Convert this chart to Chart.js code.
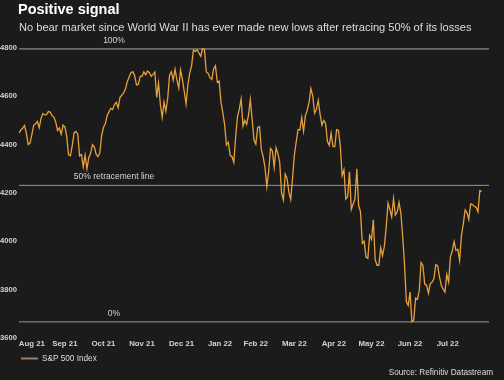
<!DOCTYPE html>
<html>
<head>
<meta charset="utf-8">
<script src="https://cdn.jsdelivr.net/npm/chart.js@4"></script>
<style>
  body { margin: 0; background: #1b1b1b; }
  #wrap { position: relative; width: 504px; height: 380px; background: #1b1b1b; font-family: "Liberation Sans", Arial, sans-serif; }
  #title { position: absolute; left: 18px; top: 1px; font-size: 14.5px; line-height: 16px; font-weight: bold; color: #fff; }
  #subtitle { position: absolute; left: 19px; top: 21px; font-size: 11.1px; line-height: 13px; color: #ddd; white-space: nowrap; }
  #source { position: absolute; right: 11px; top: 368px; font-size: 8.2px; line-height: 10px; color: #ddd; }
  canvas { position: absolute; left: 0; top: 0; }
</style>
</head>
<body>
<div id="wrap">
  <canvas id="wykres" width="504" height="380"></canvas>
  <div id="title">Positive signal</div>
  <div id="subtitle">No bear market since World War II has ever made new lows after retracing 50% of its losses</div>
  <div id="source">Source: Refinitiv Datastream</div>
</div>
<script>
// S&P 500 daily closes, one array per month (11 Aug 2021 - 11 Aug 2022)
var aug21 = [4448, 4461, 4468, 4480, 4448, 4400, 4406, 4442, 4480, 4486, 4496, 4470, 4509, 4529, 4523];
var sep21 = [4524, 4537, 4535, 4520, 4514, 4493, 4459, 4469, 4443, 4481, 4474, 4433, 4358, 4354, 4396, 4449, 4455, 4443, 4353, 4359, 4308];
var oct21 = [4357, 4300, 4346, 4364, 4400, 4391, 4361, 4351, 4364, 4438, 4471, 4486, 4520, 4536, 4550, 4545, 4566, 4575, 4552, 4596, 4605];
var nov21 = [4614, 4631, 4661, 4680, 4698, 4702, 4685, 4647, 4649, 4683, 4683, 4701, 4689, 4705, 4698, 4683, 4691, 4701, 4595, 4655, 4567];
var dec21 = [4513, 4577, 4538, 4592, 4687, 4701, 4667, 4712, 4669, 4634, 4710, 4669, 4621, 4568, 4649, 4697, 4726, 4791, 4786, 4793, 4779, 4766];
var jan22 = [4797, 4794, 4701, 4696, 4677, 4670, 4713, 4726, 4659, 4663, 4577, 4533, 4483, 4398, 4410, 4356, 4350, 4327, 4432, 4516];
var feb22 = [4547, 4589, 4477, 4501, 4484, 4522, 4587, 4504, 4419, 4402, 4471, 4475, 4380, 4349, 4305, 4226, 4289, 4385, 4374];
var mar22 = [4306, 4387, 4363, 4329, 4201, 4171, 4278, 4260, 4204, 4173, 4262, 4358, 4412, 4463, 4461, 4512, 4456, 4520, 4543, 4576, 4632, 4602, 4530];
var apr22 = [4546, 4583, 4525, 4481, 4500, 4488, 4413, 4397, 4447, 4393, 4392, 4462, 4459, 4394, 4272, 4296, 4175, 4184, 4288, 4132];
var may22 = [4155, 4175, 4300, 4147, 4123, 3991, 4001, 3935, 3930, 4024, 4008, 4089, 3924, 3901, 3901, 3974, 3941, 3979, 4058, 4158, 4132];
var jun22 = [4101, 4177, 4109, 4121, 4161, 4116, 4018, 3901, 3750, 3735, 3790, 3667, 3675, 3765, 3760, 3796, 3912, 3900, 3822, 3819, 3785];
var jul22 = [3825, 3831, 3845, 3903, 3899, 3854, 3819, 3802, 3790, 3863, 3831, 3937, 3960, 3999, 3962, 3967, 3921, 4024, 4072, 4130];
var aug22 = [4119, 4091, 4155, 4152, 4145, 4140, 4122, 4210, 4207];

var miesiace = [aug21, sep21, oct21, nov21, dec21, jan22, feb22, mar22, apr22, may22, jun22, jul22, aug22];
var etykietyX = ['Aug 21', 'Sep 21', 'Oct 21', 'Nov 21', 'Dec 21', 'Jan 22', 'Feb 22', 'Mar 22', 'Apr 22', 'May 22', 'Jun 22', 'Jul 22'];
var etykietyY = [3600, 3800, 4000, 4200, 4400, 4600, 4800];

var poziomy = [4796.56, 4231.67, 3666.77]; // 100%, 50%, 0%
var poziomyNazwy = ['100%', '50% retracement line', '0%'];

var xMax = 256;
var fontTick = "'Liberation Sans', Arial, sans-serif";

// flatten months, remember middle index of each month for the axis labels
var punkty = [];
var srodki = [];
miesiace.forEach(function (m) {
  var start = punkty.length;
  m.forEach(function (v) { punkty.push({ x: punkty.length, y: v }); });
  srodki.push((start + punkty.length - 1) / 2);
});
srodki = srodki.slice(0, etykietyX.length);

var zbiory = [{
  label: 'S&P 500 Index',
  data: punkty,
  borderColor: '#e6a03c',
  backgroundColor: '#9c7f5c',
  borderWidth: 1.3,
  pointRadius: 0,
  tension: 0,
  order: 0
}];
poziomy.forEach(function (v, i) {
  zbiory.push({
    label: poziomyNazwy[i],
    data: [{ x: 0, y: v }, { x: xMax, y: v }],
    borderColor: i === 0 ? '#6a6a6a' : '#969696',
    borderWidth: i === 0 ? 2 : 1,
    pointRadius: 0,
    order: 1
  });
});

var opisyPoziomow = {
  id: 'opisyPoziomow',
  afterDatasetsDraw: function (chart) {
    var ctx = chart.ctx;
    var y = chart.scales.y;
    ctx.save();
    ctx.fillStyle = '#d6d6d6';
    ctx.font = '8.5px ' + fontTick;
    ctx.textAlign = 'center';
    ctx.textBaseline = 'middle';
    poziomy.forEach(function (v, i) {
      ctx.fillText(poziomyNazwy[i], chart.chartArea.left + 95, y.getPixelForValue(v) - 8.5);
    });
    ctx.restore();
  }
};

new Chart(document.getElementById('wykres'), {
  type: 'line',
  data: { datasets: zbiory },
  plugins: [opisyPoziomow],
  options: {
    responsive: false,
    animation: false,
    devicePixelRatio: 1,
    layout: { padding: { top: 48, right: 15, bottom: 7.4, left: 0 } },
    scales: {
      x: {
        type: 'linear',
        min: 0,
        max: xMax,
        grid: { display: false, drawTicks: false },
        border: { display: false },
        afterBuildTicks: function (axis) {
          axis.ticks = srodki.map(function (v) { return { value: v }; });
        },
        afterFit: function (scale) { scale.height = 14.4; },
        ticks: {
          autoSkip: false,
          maxRotation: 0,
          padding: 1.2,
          color: '#d4d4d4',
          font: { family: fontTick, size: 7.8, weight: 'bold' },
          callback: function (value, index) { return etykietyX[index]; }
        }
      },
      y: {
        min: 3600,
        max: 4800,
        grid: { display: false, drawTicks: false },
        border: { display: false },
        afterBuildTicks: function (axis) {
          axis.ticks = etykietyY.map(function (v) { return { value: v }; });
        },
        afterFit: function (scale) { scale.width = 19; },
        ticks: {
          padding: 2,
          color: '#d4d4d4',
          font: { family: fontTick, size: 7.6, weight: 'bold' },
          callback: function (value) { return String(value); }
        }
      }
    },
    plugins: {
      tooltip: { enabled: false },
      legend: {
        position: 'bottom',
        align: 'start',
        fullSize: false,
        labels: {
          boxWidth: 17,
          boxHeight: 2,
          padding: 2,
          color: '#dcdcdc',
          font: { family: fontTick, size: 8.2 },
          filter: function (item) { return item.datasetIndex === 0; },
          generateLabels: function (chart) {
            var l = Chart.defaults.plugins.legend.labels.generateLabels(chart);
            l.forEach(function (it) { it.fillStyle = '#9c7f5c'; it.lineWidth = 0; });
            return l;
          }
        }
      }
    }
  }
});
</script>
</body>
</html>
